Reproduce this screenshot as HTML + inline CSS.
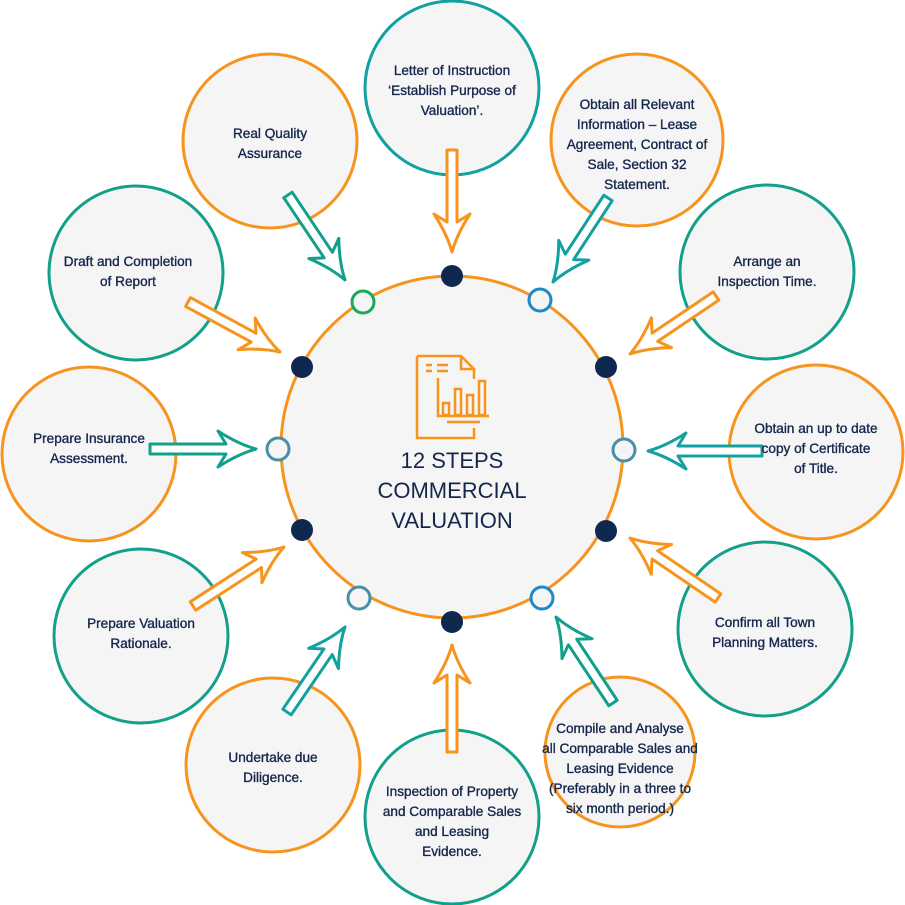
<!DOCTYPE html>
<html><head><meta charset="utf-8"><style>
html,body{margin:0;padding:0;background:#fff;}
svg{display:block;}
text{font-family:"Liberation Sans",sans-serif;fill:#15264d;}
.t{font-size:13.6px;text-anchor:middle;stroke:#15264d;stroke-width:0.35px;}
</style></head><body>
<svg id="s" width="905" height="905" viewBox="0 0 905 905" xmlns="http://www.w3.org/2000/svg">
<circle cx="452" cy="447" r="171" fill="#f5f5f5" stroke="#f7941d" stroke-width="3"/>
<g fill="none" stroke="#f7941d" stroke-width="2.5">
<path d="M417,356 H461 L474,369 V379 M461,356 V369 H474 M417,356 V438 H474 V428"/>
<path d="M426,365 H432 M437,365 H448 M426,371 H432 M437,371 H448"/>
<path d="M438,378 V416 H489"/>
<rect x="443" y="403" width="6" height="12"/>
<rect x="455" y="389" width="6" height="26"/>
<rect x="467" y="395" width="6" height="20"/>
<rect x="479" y="381" width="6" height="34"/>
<path d="M447,422 H480"/>
</g>
<text x="452" y="468" style="font-size:22px;text-anchor:middle">12 STEPS</text>
<text x="452" y="498" style="font-size:22px;text-anchor:middle">COMMERCIAL</text>
<text x="452" y="528" style="font-size:22px;text-anchor:middle">VALUATION</text>

<g fill="#f5f5f5" stroke-width="3">
<circle cx="452" cy="88" r="87" stroke="#13a0a0"/>
<circle cx="637" cy="140" r="86" stroke="#f7941d"/>
<circle cx="767" cy="272" r="87" stroke="#13a08a"/>
<circle cx="816" cy="452" r="87" stroke="#f7941d"/>
<circle cx="765" cy="629" r="87" stroke="#13a08a"/>
<circle cx="620" cy="752" r="75" stroke="#f7941d"/>
<circle cx="452" cy="817" r="87" stroke="#13a08a"/>
<circle cx="273" cy="765" r="87" stroke="#f7941d"/>
<circle cx="141" cy="636" r="87" stroke="#13a08a"/>
<circle cx="89" cy="454" r="87" stroke="#f7941d"/>
<circle cx="136" cy="273" r="87" stroke="#13a08a"/>
<circle cx="270" cy="141" r="87" stroke="#f7941d"/>
</g>

<g id="arrows"></g>

<g stroke-width="3">
<circle cx="452" cy="276" r="11" fill="#0f2850"/>
<circle cx="540" cy="300" r="11" fill="#f5f5f5" stroke="#1e88c8"/>
<circle cx="606" cy="367" r="11" fill="#0f2850"/>
<circle cx="624" cy="450" r="11" fill="#f5f5f5" stroke="#4a8fa8"/>
<circle cx="606" cy="531" r="11" fill="#0f2850"/>
<circle cx="542" cy="598" r="11" fill="#f5f5f5" stroke="#1e88c8"/>
<circle cx="452" cy="622" r="11" fill="#0f2850"/>
<circle cx="359" cy="598" r="11" fill="#f5f5f5" stroke="#4a8fa8"/>
<circle cx="302" cy="530" r="11" fill="#0f2850"/>
<circle cx="278" cy="449" r="11" fill="#f5f5f5" stroke="#4a8fa8"/>
<circle cx="302" cy="367" r="11" fill="#0f2850"/>
<circle cx="363" cy="302" r="11" fill="#f5f5f5" stroke="#1aa85a"/>
</g>

<text class="t"><tspan x="452" y="75">Letter of Instruction</tspan><tspan x="452" y="95">‘Establish Purpose of</tspan><tspan x="452" y="115">Valuation’.</tspan></text>
<text class="t"><tspan x="637" y="109">Obtain all Relevant</tspan><tspan x="637" y="129">Information – Lease</tspan><tspan x="637" y="149">Agreement, Contract of</tspan><tspan x="637" y="169">Sale, Section 32</tspan><tspan x="637" y="189">Statement.</tspan></text>
<text class="t"><tspan x="767" y="266">Arrange an</tspan><tspan x="767" y="286">Inspection Time.</tspan></text>
<text class="t"><tspan x="816" y="433">Obtain an up to date</tspan><tspan x="816" y="453">copy of Certificate</tspan><tspan x="816" y="473">of Title.</tspan></text>
<text class="t"><tspan x="765" y="627">Confirm all Town</tspan><tspan x="765" y="647">Planning Matters.</tspan></text>
<text class="t"><tspan x="620" y="733">Compile and Analyse</tspan><tspan x="620" y="753">all Comparable Sales and</tspan><tspan x="620" y="773">Leasing Evidence</tspan><tspan x="620" y="793">(Preferably in a three to</tspan><tspan x="620" y="813">six month period.)</tspan></text>
<text class="t"><tspan x="452" y="796">Inspection of Property</tspan><tspan x="452" y="816">and Comparable Sales</tspan><tspan x="452" y="836">and Leasing</tspan><tspan x="452" y="856">Evidence.</tspan></text>
<text class="t"><tspan x="273" y="762">Undertake due</tspan><tspan x="273" y="782">Diligence.</tspan></text>
<text class="t"><tspan x="141" y="628">Prepare Valuation</tspan><tspan x="141" y="648">Rationale.</tspan></text>
<text class="t"><tspan x="89" y="443">Prepare Insurance</tspan><tspan x="89" y="463">Assessment.</tspan></text>
<text class="t"><tspan x="128" y="266">Draft and Completion</tspan><tspan x="128" y="286">of Report</tspan></text>
<text class="t"><tspan x="270" y="138">Real Quality</tspan><tspan x="270" y="158">Assurance</tspan></text>
</svg>
<script>
var A=[
[452,150,452,252,"#f7941d"],
[288,195,345,280,"#13a08a"],
[608,198,553,282,"#13a0a0"],
[716,296,630,354,"#f7941d"],
[762,451,648,451,"#13a0a0"],
[718,598,630,538,"#f7941d"],
[613,703,556,617,"#13a08a"],
[452,752,452,645,"#f7941d"],
[287,712,345,627,"#13a0a0"],
[193,606,284,547,"#f7941d"],
[150,449,256,449,"#13a08a"],
[188,302,280,352,"#f7941d"]];
var g=document.getElementById("arrows"),ns="http://www.w3.org/2000/svg";
A.forEach(function(a){
var dx=a[2]-a[0],dy=a[3]-a[1],L=Math.sqrt(dx*dx+dy*dy),ang=Math.atan2(dy,dx)*180/Math.PI;
var d="M0,-5 H"+(L-30)+" L"+(L-38)+",-18 Q"+(L-18)+",-5 "+L+",0 Q"+(L-18)+",5 "+(L-38)+",18 L"+(L-30)+",5 H0 Z";
var p=document.createElementNS(ns,"path");
p.setAttribute("d",d);p.setAttribute("fill","#fff");p.setAttribute("stroke",a[4]);
p.setAttribute("stroke-width","3");p.setAttribute("stroke-linejoin","round");
p.setAttribute("transform","translate("+a[0]+","+a[1]+") rotate("+ang+")");
g.appendChild(p);});
</script>
</body></html>
